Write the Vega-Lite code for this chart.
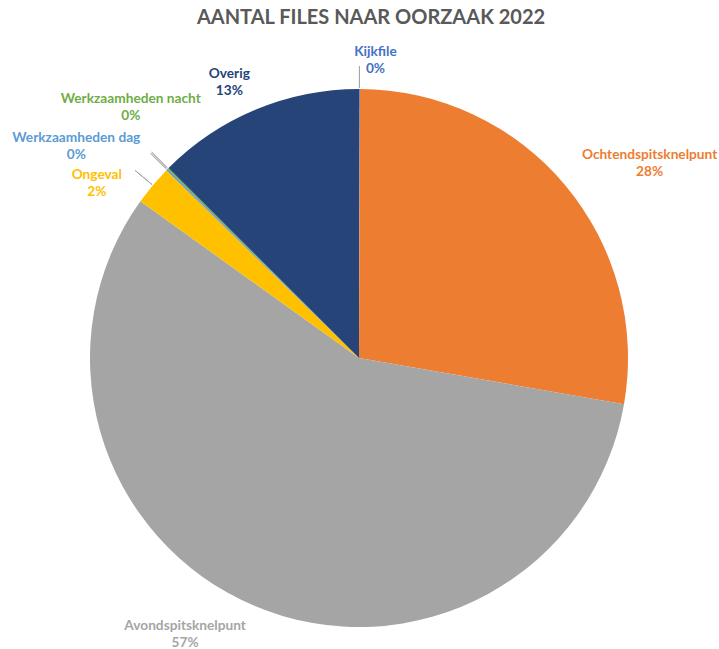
{
  "$schema": "https://vega.github.io/schema/vega-lite/v6.json",
  "width": 718,
  "height": 636,
  "autosize": {"type": "none"},
  "padding": {"left": 0, "top": 40, "right": 0, "bottom": 0},
  "background": "white",
  "title": {"text": "AANTAL FILES NAAR OORZAAK 2022", "font": "Lato", "fontSize": 20, "fontWeight": "bold", "color": "#595959", "anchor": "middle", "dx": 12, "offset": 12},
  "config": {"view": {"stroke": null}},
  "data": {"values": [
    {"cause": "Kijkfile", "value": 0.05, "ord": 1},
    {"cause": "Ochtendspitsknelpunt", "value": 27.7, "ord": 2},
    {"cause": "Avondspitsknelpunt", "value": 57.15, "ord": 3},
    {"cause": "Ongeval", "value": 2.4, "ord": 4},
    {"cause": "Werkzaamheden dag", "value": 0.1, "ord": 5},
    {"cause": "Werkzaamheden nacht", "value": 0.08, "ord": 6},
    {"cause": "Overig", "value": 12.52, "ord": 7}
  ]},
  "transform": [
    {"joinaggregate": [{"op": "sum", "field": "value", "as": "total"}]},
    {"calculate": "datum.value / datum.total", "as": "share"},
    {"stack": "value", "groupby": [], "sort": [{"field": "ord", "order": "ascending"}], "as": ["v0", "v1"]},
    {"calculate": "(datum.v0 + datum.v1) / 2", "as": "mid"},
    {"calculate": "datum.cause + '\\n' + format(datum.share, '.0%')", "as": "label"}
  ],
  "encoding": {
    "color": {"field": "cause", "type": "nominal", "legend": null,
      "scale": {"domain": ["Kijkfile", "Ochtendspitsknelpunt", "Avondspitsknelpunt", "Ongeval", "Werkzaamheden dag", "Werkzaamheden nacht", "Overig"],
                "range": ["#4472C4", "#ED7D31", "#A5A5A5", "#FFC000", "#5B9BD5", "#70AD47", "#264478"]}}
  },
  "resolve": {"scale": {"theta": "shared"}},
  "layer": [
    {"mark": {"type": "arc", "radius": 269},
     "encoding": {"theta": {"field": "v0", "type": "quantitative", "scale": {"domain": [0, 100]}}, "theta2": {"field": "v1"}}},
    {"transform": [{"filter": "indexof(['Kijkfile','Ongeval','Werkzaamheden dag','Werkzaamheden nacht'], datum.cause) >= 0"}],
     "mark": {"type": "arc", "radius": 292, "radius2": 270, "fill": null, "stroke": "#A6A6A6", "strokeWidth": 1},
     "encoding": {"theta": {"field": "mid", "type": "quantitative", "scale": {"domain": [0, 100]}}, "theta2": {"field": "mid"}, "color": {"value": "#A6A6A6"}, "fill": {"value": null}, "stroke": {"value": "#A6A6A6"}}},
    {"transform": [{"filter": "datum.cause == 'Kijkfile'"}],
     "mark": {"type": "text", "radius": 299, "dx": 16, "dy": -7, "font": "Lato", "fontSize": 13.7, "fontWeight": "bold", "lineBreak": "\n", "lineHeight": 17, "align": "center", "baseline": "middle"},
     "encoding": {"theta": {"field": "mid", "type": "quantitative"}, "text": {"field": "label"}}},
    {"transform": [{"filter": "datum.cause == 'Ochtendspitsknelpunt'"}],
     "mark": {"type": "text", "radius": 340, "dx": 30, "dy": 15, "font": "Lato", "fontSize": 13.7, "fontWeight": "bold", "lineBreak": "\n", "lineHeight": 17, "align": "center", "baseline": "middle"},
     "encoding": {"theta": {"field": "mid", "type": "quantitative"}, "text": {"field": "label"}}},
    {"transform": [{"filter": "datum.cause == 'Avondspitsknelpunt'"}],
     "mark": {"type": "text", "radius": 320, "dx": -50, "dy": -27, "font": "Lato", "fontSize": 13.7, "fontWeight": "bold", "lineBreak": "\n", "lineHeight": 17, "align": "center", "baseline": "middle"},
     "encoding": {"theta": {"field": "mid", "type": "quantitative"}, "text": {"field": "label"}}},
    {"transform": [{"filter": "datum.cause == 'Ongeval'"}],
     "mark": {"type": "text", "radius": 316, "dx": -20, "dy": 20, "font": "Lato", "fontSize": 13.7, "fontWeight": "bold", "lineBreak": "\n", "lineHeight": 17, "align": "center", "baseline": "middle"},
     "encoding": {"theta": {"field": "mid", "type": "quantitative"}, "text": {"field": "label"}}},
    {"transform": [{"filter": "datum.cause == 'Werkzaamheden dag'"}],
     "mark": {"type": "text", "radius": 340, "dx": -40, "dy": 18, "font": "Lato", "fontSize": 13.7, "fontWeight": "bold", "lineBreak": "\n", "lineHeight": 17, "align": "center", "baseline": "middle"},
     "encoding": {"theta": {"field": "mid", "type": "quantitative"}, "text": {"field": "label"}}},
    {"transform": [{"filter": "datum.cause == 'Werkzaamheden nacht'"}],
     "mark": {"type": "text", "radius": 330, "dx": 6, "dy": -27, "font": "Lato", "fontSize": 13.7, "fontWeight": "bold", "lineBreak": "\n", "lineHeight": 17, "align": "center", "baseline": "middle"},
     "encoding": {"theta": {"field": "mid", "type": "quantitative"}, "text": {"field": "label"}}},
    {"transform": [{"filter": "datum.cause == 'Overig'"}],
     "mark": {"type": "text", "radius": 307, "dx": -12, "dy": 0, "font": "Lato", "fontSize": 13.7, "fontWeight": "bold", "lineBreak": "\n", "lineHeight": 17, "align": "center", "baseline": "middle"},
     "encoding": {"theta": {"field": "mid", "type": "quantitative"}, "text": {"field": "label"}}}
  ]
}
